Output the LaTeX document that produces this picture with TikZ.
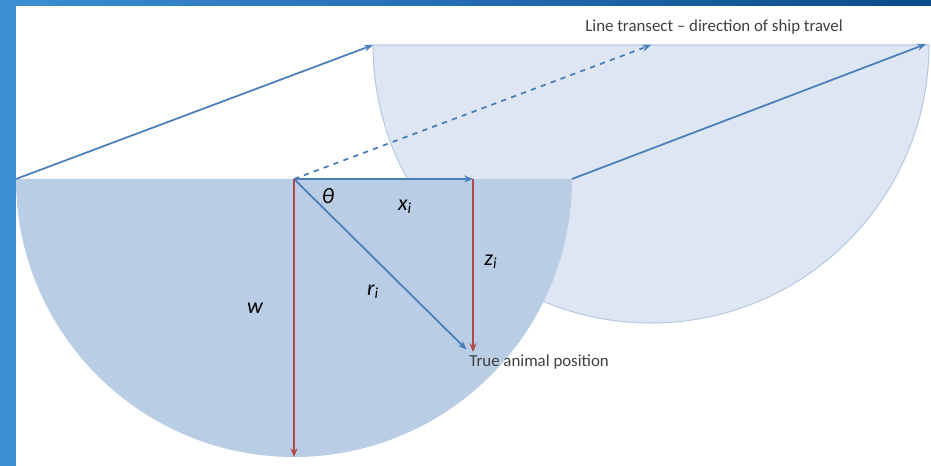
\documentclass[tikz,border=0pt]{standalone}
\usepackage{fontspec}
\setmainfont{Carlito}
\usetikzlibrary{arrows.meta,calc}
\definecolor{frameleft}{HTML}{3C8ED2}
\definecolor{frameright}{HTML}{0B4A8C}
\definecolor{nearfill}{HTML}{B9CDE5}
\definecolor{farfill}{HTML}{DDE6F2}
\definecolor{faredge}{HTML}{B8CBE3}
\definecolor{lineblue}{HTML}{4A7EBB}
\definecolor{linered}{HTML}{B0474D}
\definecolor{textgrey}{HTML}{3F3F3F}
\tikzset{
  travel/.style={
    draw=lineblue,
    line width=1pt,
    -{Stealth[length=5pt,width=4pt]}
  },
  depth/.style={
    draw=linered,
    line width=1pt,
    -{Stealth[length=5pt,width=4pt]}
  },
  symbol/.style={
    font=\fontsize{12.5}{13}\selectfont\itshape,
    text=black
  },
  caption/.style={
    font=\fontsize{9.6}{10}\selectfont,
    text=textgrey,
    inner sep=0pt
  }
}
\begin{document}
\begin{tikzpicture}[x=0.02cm,y=-0.02cm]
  \useasboundingbox (0,0) rectangle (931,466);
  % corners of the two half discs
  \coordinate (nearC) at (294,179);
  \coordinate (nearL) at (16,179);
  \coordinate (nearR) at (572,179);
  \coordinate (farC) at (651,45);
  \coordinate (farL) at (373,45);
  \coordinate (farR) at (929,45);
  \coordinate (xend) at (473,179);
  \coordinate (animal) at (473,352);
  \coordinate (wend) at (294,457);
  % far half disc
  \filldraw[fill=farfill,draw=faredge,line width=.6pt]
    (farL) arc[start angle=180,end angle=0,radius=278] -- cycle;
  % near half disc
  \fill[nearfill]
    (nearL) arc[start angle=180,end angle=0,radius=278] -- cycle;
  % ship travel
  \draw[travel] (nearL) -- (farL);
  \draw[travel] (nearR) -- ($(farR)+(-3,-1)$);
  \draw[travel,dashed] (nearC) -- (farC);
  \node[caption] (transect) at (714,27) {Line transect -- direction of ship travel};
  % distances
  \draw[travel] (nearC) -- (xend);
  \draw[depth] (xend) -- (animal);
  \draw[travel,shorten >=2pt] (nearC) -- ($(animal)+(-4,0)$);
  \draw[depth] (nearC) -- (wend);
  \node[symbol] (theta) at (328,196) {θ};
  \node[symbol] (xi) at (405,207) {x\textsubscript{\itshape i}};
  \node[symbol] (zi) at (491,262) {z\textsubscript{\itshape i}};
  \node[symbol] (ri) at (373,292) {r\textsubscript{\itshape i}};
  \node[symbol] (w) at (255,308) {w};
  \node[caption,anchor=west] (pos) at (469,362) {True animal position};
  % frame
  \shade[left color=frameleft,right color=frameright] (0,0) rectangle (931,6);
  \fill[frameleft] (0,0) rectangle (16,466);
\end{tikzpicture}
\end{document}
